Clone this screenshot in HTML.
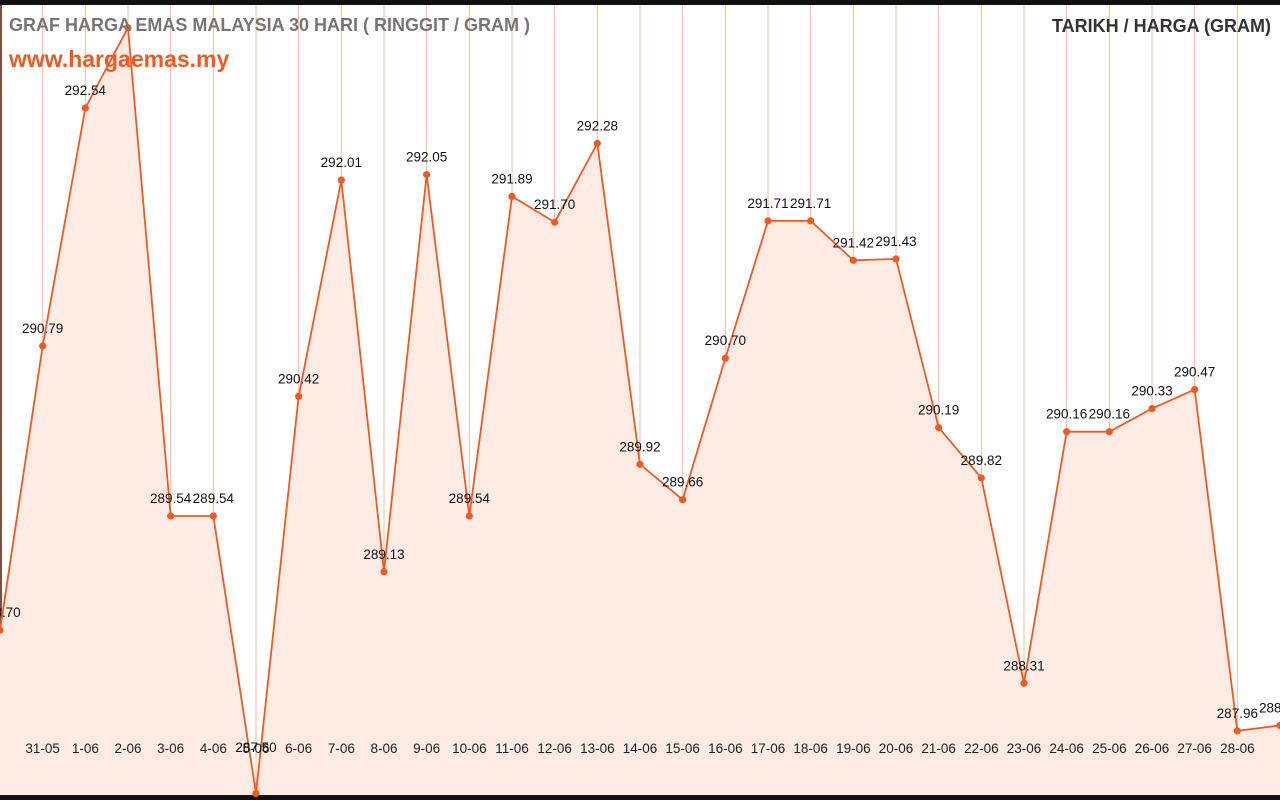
<!DOCTYPE html>
<html><head><meta charset="utf-8"><style>
html,body{margin:0;padding:0;background:#fff;width:1280px;height:800px;overflow:hidden}
svg{display:block}
text{font-family:"Liberation Sans",Arial,sans-serif}
</style></head><body>
<svg id="chart" width="1280" height="800">
<rect x="0" y="0" width="1280" height="5" fill="#111"/>
<rect x="0" y="795" width="1280" height="5" fill="#111"/>
<rect x="0" y="5" width="2" height="790" fill="#7a5040"/>
<g id="grid"></g><g id="series"></g><g id="labels"></g>
<text x="9" y="31" font-size="18" font-weight="bold" fill="#757575">GRAF HARGA EMAS MALAYSIA 30 HARI ( RINGGIT / GRAM )</text>
<text x="9" y="67" font-size="23" font-weight="bold" fill="#f05a22">www.hargaemas.my</text>
<text x="1271" y="32" font-size="18" font-weight="bold" fill="#333" text-anchor="end">TARIKH / HARGA (GRAM)</text>
</svg>
<script>
const dates=["30-05","31-05","1-06","2-06","3-06","4-06","5-06","6-06","7-06","8-06","9-06","10-06","11-06","12-06","13-06","14-06","15-06","16-06","17-06","18-06","19-06","20-06","21-06","22-06","23-06","24-06","25-06","26-06","27-06","28-06","29-06"];
const prices=[288.70,290.79,292.54,293.13,289.54,289.54,287.50,290.42,292.01,289.13,292.05,289.54,291.89,291.70,292.28,289.92,289.66,290.70,291.71,291.71,291.42,291.43,290.19,289.82,288.31,290.16,290.16,290.33,290.47,287.96,288.00];
const NS="http://www.w3.org/2000/svg";
const xs=i=>i*1280/30;
const ys=v=>516-(v-289.54)*136;
function mk(tag,attrs,parent){const e=document.createElementNS(NS,tag);for(const k in attrs)e.setAttribute(k,attrs[k]);parent.appendChild(e);return e;}
const grid=document.getElementById('grid'),ser=document.getElementById('series'),lab=document.getElementById('labels');
dates.forEach((d,i)=>{
  const x=xs(i);
  if(i>0&&i<dates.length-1){
    const l=mk('line',{x1:x,x2:x,y1:5,y2:795,stroke:'#f5b8a3','stroke-width':1},grid);
    
    
    const t=mk('line',{x1:x,x2:x,y1:789,y2:795,stroke:'#333','stroke-width':1},grid);
    
    
    const tx=mk('text',{x:x,y:753,'font-size':13.5,fill:'#222','text-anchor':'middle'},lab);
    tx.textContent=d;
    
    
  }
});
let pts=prices.map((v,i)=>xs(i)+','+ys(v)).join(' ');
const area=mk('polygon',{points:'0,795 '+pts+' 1280,795',fill:'#fdebe4'},ser);


const line=mk('polyline',{points:pts,fill:'none',stroke:'#f05a22','stroke-width':1.8},ser);


prices.forEach((v,i)=>{
  const x=xs(i),y=ys(v);
  const c=mk('circle',{cx:x,cy:y,r:3.6,fill:'#f05a22'},ser);
  
  
  if(i===3)return;
  let ty=Math.min(y-13,752);
  const last=i===prices.length-1;
  const t=mk('text',{x:last?x-21:x,y:ty,'font-size':13.5,fill:'#111','text-anchor':last?'start':'middle'},lab);
  t.textContent=v.toFixed(2);
  
  
});
</script>
</body></html>
